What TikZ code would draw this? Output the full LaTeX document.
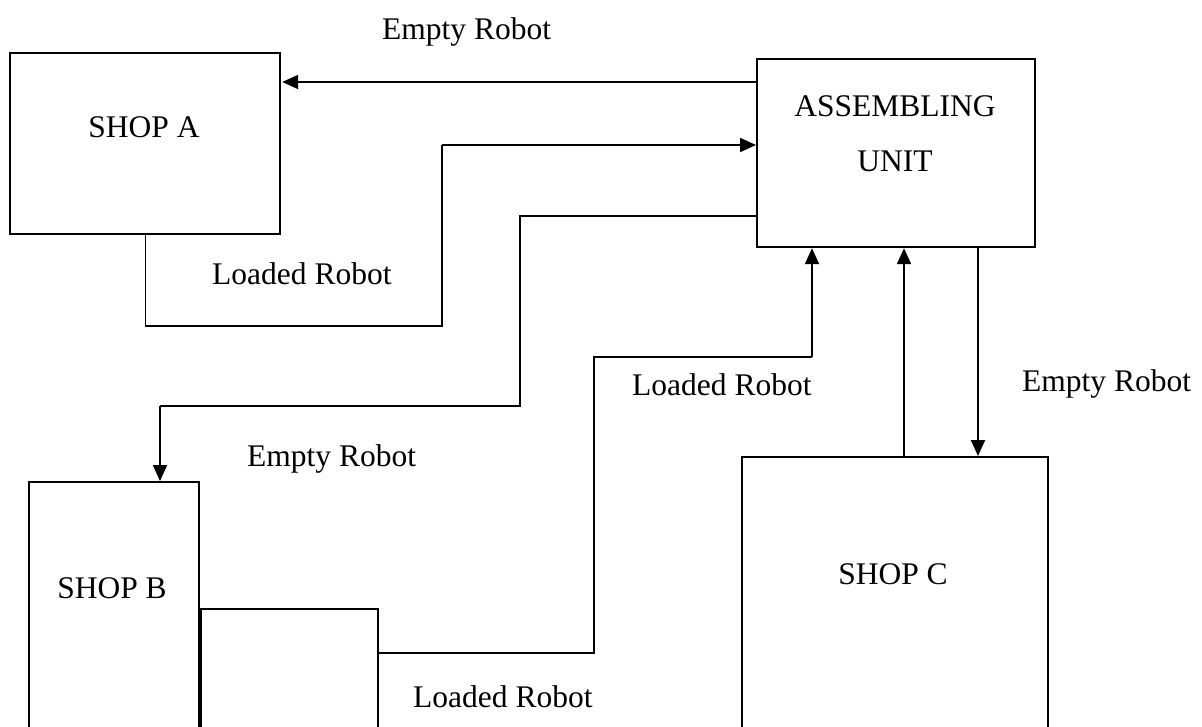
\documentclass[tikz,border=0pt]{standalone}
\usepackage{fontspec}
\setmainfont{Liberation Serif}
\usetikzlibrary{arrows.meta}

\begin{document}
\begin{tikzpicture}[x=1pt,y=-1pt,
    box/.style={draw=black, line width=2.2pt, rectangle, inner sep=0pt, anchor=north west},
    txt/.style={inner sep=0pt, anchor=base, font=\fontsize{31.5}{38}\selectfont},
    lbl/.style={inner sep=0pt, anchor=base west, font=\fontsize{31.5}{38}\selectfont},
    thinline/.style={draw=black, line width=1.1pt},
    flow/.style={draw=black, line width=2pt, -{Triangle[length=16pt,width=14pt]}}]

\useasboundingbox (0,0) rectangle (1202,726);
\clip (0,0) rectangle (1202,726);

% shops and the assembling unit
\node[box, minimum width=270pt, minimum height=181pt] (shopA) at (9,52) {};
\node[box, minimum width=278pt, minimum height=188pt] (asm) at (756,58) {};
\node[box, minimum width=170pt, minimum height=280pt] (shopB) at (28,481) {};
\node[box, minimum width=177pt, minimum height=150pt] (dock) at (200,608) {};
\node[box, minimum width=306pt, minimum height=300pt] (shopC) at (741,456) {};

% box captions
\node[txt] (tA) at (144,137) {SHOP A};
\node[txt] (tU1) at (895,116) {ASSEMBLING};
\node[txt] (tU2) at (895,171) {UNIT};
\node[txt] (tB) at (112,598) {SHOP B};
\node[txt] (tC) at (893,584) {SHOP C};

% flow labels
\node[lbl] (eA) at (382,39) {Empty Robot};
\node[lbl] (lA) at (212,284) {Loaded Robot};
\node[lbl] (eB) at (247,466) {Empty Robot};
\node[lbl] (lB) at (632,395) {Loaded Robot};
\node[lbl] (eC) at (1022,391) {Empty Robot};
\node[lbl] (lB2) at (413,707) {Loaded Robot};

% routing corners
\coordinate (ya) at (0,82);
\coordinate (a1) at (442,326);
\coordinate (a2) at (442,145);
\coordinate (yb) at (0,216);
\coordinate (b1) at (520,216);
\coordinate (b2) at (520,406);
\coordinate (b3) at (160,406);
\coordinate (yd) at (0,653);
\coordinate (d1) at (594,653);
\coordinate (d2) at (594,357);
\coordinate (d3) at (812,357);
\coordinate (cu) at (904,0);
\coordinate (cd) at (978,0);

% empty robot: assembling unit -> shop A
\draw[flow, shorten >=1pt] (asm.west |- ya) -- (shopA.east |- ya);

% loaded robot: shop A -> assembling unit
\draw[thinline] (shopA.south) |- (a1) -- (a2);
\draw[flow] (a2) -- (asm.west |- a2);

% empty robot: assembling unit -> shop B
\draw[thinline] (asm.west |- yb) -- (b1) -- (b2) -- (b3);
\draw[flow] (b3) -- (shopB.north -| b3);

% loaded robot: shop B -> assembling unit
\draw[thinline] (dock.east |- yd) -- (d1) -- (d2) -- (d3);
\draw[flow] (d3) -- (asm.south -| d3);

% shop C traffic
\draw[flow] (shopC.north -| cu) -- (asm.south -| cu);
\draw[flow] (asm.south -| cd) -- (shopC.north -| cd);

\end{tikzpicture}
\end{document}
